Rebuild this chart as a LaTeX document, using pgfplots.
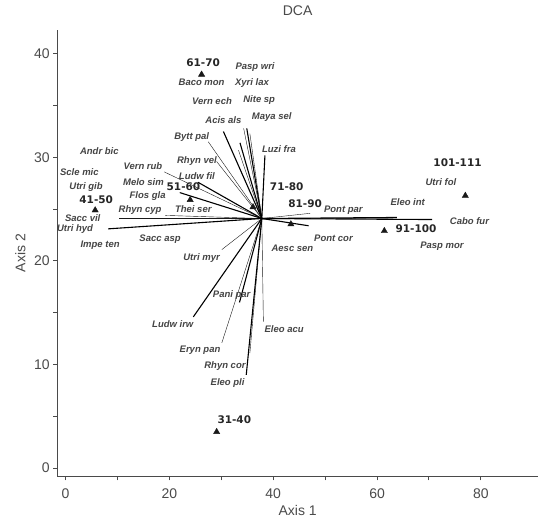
\documentclass[border=0pt]{standalone}
\usepackage{pgfplots}
\pgfplotsset{compat=1.18}
\usepackage{fontspec}
\setmainfont{Liberation Sans}
\newfontfamily\sampfont{DejaVu Sans}
\definecolor{axgray}{HTML}{4A4A4A}
\definecolor{txtgray}{HTML}{444444}
\begin{document}
\begin{tikzpicture}[
  sp/.style={font=\fontsize{9.5}{11}\selectfont\bfseries\itshape, text=txtgray, inner sep=0pt},
  sm/.style={font=\sampfont\bfseries\fontsize{10.5}{12}\selectfont, text=black!85, inner sep=0pt}]
\begin{axis}[
  name=ax,
  scale only axis, width=481pt, height=446.7pt,
  xmin=-1.6, xmax=91, ymin=-0.8, ymax=42.3,
  axis x line=bottom, axis y line=left,
  axis line style={-, axgray, line width=1.1pt},
  xtick={0,20,40,60,80}, minor xtick={10,30,50,70},
  ytick={0,10,20,30,40}, minor ytick={5,15,25,35},
  tick align=outside, major tick length=4pt, minor tick length=4pt,
  tick style={axgray, line width=1pt},
  ticklabel style={font=\fontsize{14}{16}\selectfont, text=axgray},
  xticklabel style={yshift=-5pt},
  /pgf/number format/assume math mode=true,
  xlabel={Axis 1}, ylabel={Axis 2},
  xlabel style={at={(axis description cs:0.5,-0.0761)}, anchor=center, font=\fontsize{14}{16}\selectfont, text=axgray},
  ylabel style={at={(axis description cs:-0.077,0.5)}, anchor=center, font=\fontsize{14}{16}\selectfont, text=axgray},
  title={DCA},
  title style={at={(axis description cs:0.5,1.029)}, anchor=center, font=\fontsize{14}{16}\selectfont, text=axgray},
  clip=false,
]
% species vectors
\pgfplotsset{cycle list={{black!90, line width=1.1pt}}}
\addplot coordinates {(37.8,24.1) (34.3,32.8)};
\addplot coordinates {(37.8,24.1) (34.9,32.8)};
\addplot coordinates {(37.8,24.1) (35.5,32.3)};
\addplot coordinates {(37.8,24.1) (33.6,31.4)};
\addplot coordinates {(37.8,24.1) (33.3,30.7)};
\addplot coordinates {(37.8,24.1) (30.4,32.5)};
\addplot coordinates {(37.8,24.1) (27.5,31.5)};
\addplot coordinates {(37.8,24.1) (38.4,30.2)};
\addplot coordinates {(37.8,24.1) (29.1,29.6)};
\addplot coordinates {(37.8,24.1) (25.5,27.6)};
\addplot coordinates {(37.8,24.1) (19.0,28.6)};
\addplot coordinates {(37.8,24.1) (22.0,26.6)};
\addplot coordinates {(37.8,24.1) (19.2,24.4)};
\addplot coordinates {(37.8,24.1) (21.5,24.1)};
\addplot coordinates {(37.8,24.1) (10.2,24.1)};
\addplot coordinates {(37.8,24.1) (8.2,23.1)};
\addplot coordinates {(37.8,24.1) (30.1,21.1)};
\addplot coordinates {(37.8,24.1) (24.6,14.6)};
\addplot coordinates {(37.8,24.1) (30.1,12.1)};
\addplot coordinates {(37.8,24.1) (33.5,16.0)};
\addplot coordinates {(37.8,24.1) (35.5,11.1)};
\addplot coordinates {(37.8,24.1) (34.8,9.0)};
\addplot coordinates {(37.8,24.1) (38.1,14.15)};
\addplot coordinates {(37.8,24.1) (63.8,24.2)};
\addplot coordinates {(37.8,24.05) (63.8,24.15)};
\addplot coordinates {(37.8,24.1) (70.6,24.0)};
\addplot coordinates {(37.8,24.1) (47.1,24.6)};
\addplot coordinates {(37.8,24.1) (46.8,23.4)};
% sample scores
\addplot[only marks, mark=triangle*, mark size=3.6pt, black!90] coordinates {
(26.2,38.0) (24.0,25.9) (5.7,24.9) (36.1,25.2) (43.4,23.55) (61.4,22.9) (77.0,26.3) (29.1,3.5)};
% sample labels
\node[sm] at (axis cs:26.5,39.15) {61-70};
\node[sm] at (axis cs:22.7,27.18) {51-60};
\node[sm] at (axis cs:5.9,25.9) {41-50};
\node[sm] at (axis cs:42.6,27.18) {71-80};
\node[sm] at (axis cs:46.15,25.5) {81-90};
\node[sm] at (axis cs:67.5,23.1) {91-100};
\node[sm] at (axis cs:75.5,29.53) {101-111};
\node[sm] at (axis cs:32.5,4.66) {31-40};
% species labels
\node[sp] at (axis cs:36.5,38.76) {Pasp wri};
\node[sp] at (axis cs:26.2,37.26) {Baco mon};
\node[sp] at (axis cs:35.9,37.22) {Xyri lax};
\node[sp] at (axis cs:28.2,35.4) {Vern ech};
\node[sp] at (axis cs:37.3,35.55) {Nite sp};
\node[sp] at (axis cs:30.4,33.62) {Acis als};
\node[sp] at (axis cs:39.7,33.94) {Maya sel};
\node[sp] at (axis cs:24.3,31.95) {Bytt pal};
\node[sp] at (axis cs:41.1,30.82) {Luzi fra};
\node[sp] at (axis cs:6.5,30.63) {Andr bic};
\node[sp] at (axis cs:25.3,29.6) {Rhyn vel};
\node[sp] at (axis cs:14.9,29.2) {Vern rub};
\node[sp] at (axis cs:25.3,28.15) {Ludw fil};
\node[sp] at (axis cs:2.66,28.57) {Scle mic};
\node[sp] at (axis cs:15.0,27.6) {Melo sim};
\node[sp] at (axis cs:3.95,27.18) {Utri gib};
\node[sp] at (axis cs:15.8,26.28) {Flos gla};
\node[sp] at (axis cs:14.35,24.93) {Rhyn cyp};
\node[sp] at (axis cs:24.6,25.03) {Thei ser};
\node[sp] at (axis cs:3.3,24.1) {Sacc vil};
\node[sp] at (axis cs:1.83,23.06) {Utri hyd};
\node[sp] at (axis cs:6.65,21.5) {Impe ten};
\node[sp] at (axis cs:18.2,22.1) {Sacc asp};
\node[sp] at (axis cs:26.2,20.27) {Utri myr};
\node[sp] at (axis cs:72.3,27.57) {Utri fol};
\node[sp] at (axis cs:53.5,24.93) {Pont par};
\node[sp] at (axis cs:65.9,25.64) {Eleo int};
\node[sp] at (axis cs:77.8,23.87) {Cabo fur};
\node[sp] at (axis cs:51.6,22.2) {Pont cor};
\node[sp] at (axis cs:43.7,21.23) {Aesc sen};
\node[sp] at (axis cs:72.5,21.39) {Pasp mor};
\node[sp] at (axis cs:32.0,16.72) {Pani par};
\node[sp] at (axis cs:20.65,13.9) {Ludw irw};
\node[sp] at (axis cs:42.1,13.4) {Eleo acu};
\node[sp] at (axis cs:25.9,11.4) {Eryn pan};
\node[sp] at (axis cs:30.7,9.87) {Rhyn cor};
\node[sp] at (axis cs:31.2,8.26) {Eleo pli};
\end{axis}
\pgfresetboundingbox
\path (ax.south west) ++(-57.3pt,-46.3pt) rectangle ([shift={(2pt,30pt)}]ax.north east);
\end{tikzpicture}
\end{document}
